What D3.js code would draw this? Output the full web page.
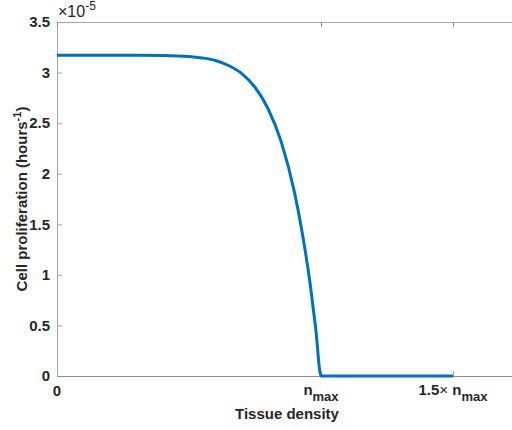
<!DOCTYPE html>
<html lang="en">
<head>
<meta charset="UTF-8">
<title>Cell proliferation</title>
<style>
  body { margin: 0; background: #fff; }
  svg { display: block; font-family: "Liberation Sans", Arial, sans-serif; }
  .tick text { font-weight: bold; fill: #262626; }
</style>
</head>
<body>
<div id="chart"></div>
<script src="https://d3js.org/d3.v7.min.js"></script>
<script>
// tissue density (in units of n_max) and proliferation (x1e-5 per hour)
const density = [0, 0.1, 0.2, 0.3, 0.4, 0.5, 0.55, 0.6, 0.65, 0.7, 0.75, 0.8, 0.85, 0.9, 0.93, 0.96, 0.98, 1.0, 1.5];
const prolif  = [3.172, 3.172, 3.172, 3.172, 3.170, 3.160, 3.145, 3.12, 3.07, 2.99, 2.855, 2.64, 2.31, 1.81, 1.40, 0.89, 0.47, 0, 0];
const yTicks = [0, 0.5, 1, 1.5, 2, 2.5, 3, 3.5];
const xTicks = [0, 1, 1.5];

const width = 512, height = 430;
const margin = { left: 57, top: 22, right: -7, bottom: 54 };
const lineColor = '#0072BD';
const axisColor = '#a6a6a6';
const textColor = '#262626';

const svg = d3.select('#chart').append('svg')
    .attr('width', width)
    .attr('height', height);

const x = d3.scaleLinear().domain([0, 1.75]).range([margin.left, width - margin.right]);
const y = d3.scaleLinear().domain([0, 3.5]).range([height - margin.bottom, margin.top]);

const data = density.map((d, i) => ({ n: d, p: prolif[i] }));

// left axis
const yAxis = svg.append('g')
    .attr('transform', `translate(${margin.left},0)`)
    .call(d3.axisLeft(y).tickValues(yTicks).tickSize(-5).tickPadding(7).tickFormat(d3.format('')))
yAxis.selectAll('text').style('font-size', '15px');
yAxis.select('.domain').attr('stroke', axisColor);
yAxis.selectAll('.tick line').attr('stroke', axisColor);

// bottom axis
const xAxis = svg.append('g')
    .attr('transform', `translate(0,${y(0)})`)
    .call(d3.axisBottom(x).tickValues(xTicks).tickSize(-5).tickPadding(8).tickFormat(''))
xAxis.select('.domain').attr('stroke', '#8c8c8c');
xAxis.selectAll('.tick line').attr('stroke', axisColor);

// top axis (box)
const topAxis = svg.append('g')
    .attr('transform', `translate(0,${y(3.5)})`)
    .call(d3.axisTop(x).tickValues(xTicks).tickSize(-5).tickFormat(''))
topAxis.select('.domain').attr('stroke', axisColor);
topAxis.selectAll('.tick line').attr('stroke', '#8c8c8c');

// x tick labels with subscripts
const xLab = svg.append('g')
    .attr('font-size', 15)
    .attr('font-weight', 'bold')
    .attr('fill', textColor)
    .attr('text-anchor', 'middle');

xLab.append('text').attr('x', x(0)).attr('y', y(0) + 20).text('0');

const t1 = xLab.append('text').attr('x', x(1)).attr('y', y(0) + 19);
t1.append('tspan').text('n');
t1.append('tspan').attr('dy', 6).attr('font-size', 13).text('max');

const t2 = xLab.append('text').attr('x', x(1.5)).attr('y', y(0) + 19);
t2.append('tspan').text('1.5');
t2.append('tspan').attr('font-weight', 'normal').text('\u00d7 ');
t2.append('tspan').text('n');
t2.append('tspan').attr('dy', 6).attr('font-size', 13).text('max');

// exponent label
const ex = svg.append('text')
    .attr('x', margin.left + 1)
    .attr('y', 17)
    .attr('font-size', 16)
    .attr('fill', textColor);
ex.append('tspan').text('\u00d710');
ex.append('tspan').attr('dy', -7).attr('font-size', 12).text('-5');

// axis titles
svg.append('text')
    .attr('x', 287)
    .attr('y', 419)
    .attr('text-anchor', 'middle')
    .attr('font-size', 15)
    .attr('font-weight', 'bold')
    .attr('fill', textColor)
    .text('Tissue density');

const yt = svg.append('text')
    .attr('transform', `translate(27,${(y(0) + y(3.5)) / 2}) rotate(-90)`)
    .attr('text-anchor', 'middle')
    .attr('font-size', 15)
    .attr('font-weight', 'bold')
    .attr('fill', textColor);
yt.append('tspan').text('Cell proliferation (hours');
yt.append('tspan').attr('dy', -6).attr('font-size', 11).text('-1');
yt.append('tspan').attr('dy', 6).text(')');

// the curve
const line = d3.line()
    .x(d => x(d.n))
    .y(d => y(d.p))
    .curve(d3.curveMonotoneX);

svg.append('path')
    .datum(data)
    .attr('fill', 'none')
    .attr('stroke', lineColor)
    .attr('stroke-width', 3)
    .attr('d', line);
</script>
</body>
</html>
